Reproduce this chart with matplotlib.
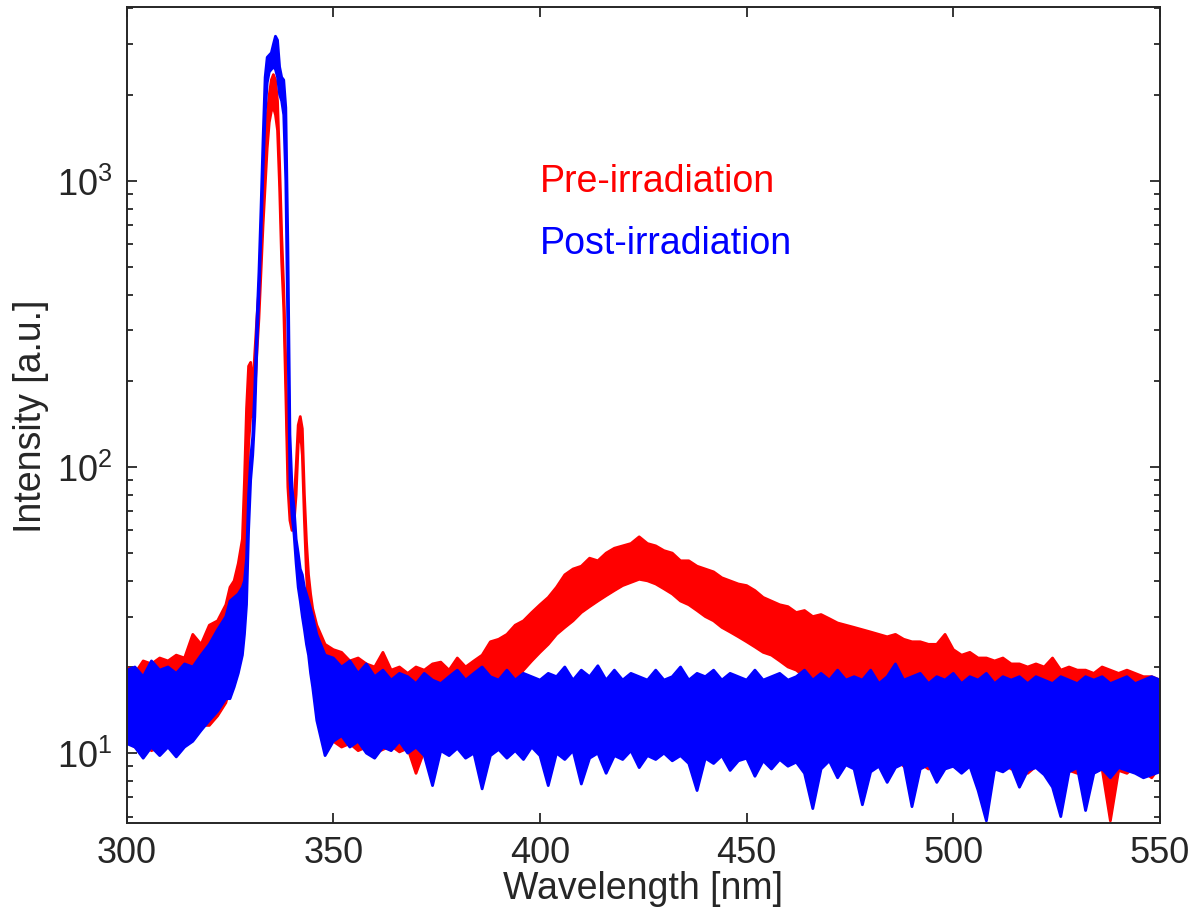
import numpy as np
import matplotlib
matplotlib.use("Agg")
import matplotlib.pyplot as plt

plt.rcParams['font.family'] = ['Liberation Sans', 'DejaVu Sans']
plt.rcParams['mathtext.fontset'] = 'custom'
plt.rcParams['mathtext.rm'] = 'Liberation Sans'
plt.rcParams['mathtext.it'] = 'Liberation Sans:italic'
plt.rcParams['mathtext.bf'] = 'Liberation Sans:bold'

# wavelength grid [nm]: coarse on the baseline, fine across the 337 nm peak
wl = np.concatenate([np.arange(300, 325, 2), [325, 326, 327, 328],
                     np.arange(328.5, 345.01, 0.5), np.arange(346, 551, 2)])

# pre-irradiation spectra: lower / upper envelope of the bundle of traces
pre_lo = [11, 10.5, 10.8, 10.2, 10.5, 10.8, 10.3, 11, 11.5, 12.5, 12.5, 13.5, 15,
          17, 20, 23, 28,
          38, 60, 120, 150, 150, 180, 250, 330, 480, 700, 950, 1300, 1600, 1750,
          1800, 1700, 1500, 950, 520, 360, 180, 85, 65, 60, 64, 80, 120, 135,
          110, 65, 42, 32, 26, 22,
          14, 11.5, 11, 10.5, 10.8, 10.2, 10.5, 10, 10.3, 10.6, 10.1, 10.4, 8.5,
          10.2, 9.8, 10.5, 10.2, 10.6, 11, 12, 13, 14, 15, 16.5, 18, 19.5, 21,
          22.5, 24, 26, 27.5, 29, 31, 32.5, 34, 35.5, 37, 38.5, 39.5, 40.5, 40,
          39, 37.5, 36, 34, 33, 31.5, 30, 29, 27.5, 26.5, 25.5, 24.5, 23.5, 22.5,
          22, 21, 20, 19.5, 18.5, 18, 17, 16.5, 15, 13.5, 12, 11, 10, 9.5, 9.2,
          9.6, 9, 9.4, 9.2, 8.8, 9.3, 9.1, 9, 8.6, 9.2, 8.9, 9.1, 8.7, 9.2, 8.8,
          9.2, 8.5, 9, 8.8, 8.2, 9.1, 8.7, 8.5, 9, 8.6, 8.8, 5.8, 8.7, 8.5, 9,
          8.6, 8.2, 9]
pre_hi = [20, 19, 21, 20.5, 21.5, 21, 22, 21.5, 26, 24, 28, 29, 33,
          38, 40, 46, 56,
          90, 160, 225, 232, 190, 250, 330, 420, 560, 850, 1200, 1700, 2000, 2250,
          2350, 2250, 1900, 1150, 650, 420, 230, 105, 78, 70, 76, 100, 140, 150,
          136, 80, 55, 42, 36, 32,
          28, 24, 23, 22.5, 21, 21.5, 20.5, 20, 22.5, 19.5, 20, 19, 20, 19.5,
          20.5, 20.8, 19.5, 21.5, 20, 21, 22, 24.5, 25, 26, 28, 29, 31, 33, 35,
          38, 42, 44, 45, 48, 47, 50, 52, 53, 54, 57, 54, 53, 51, 50, 47, 47, 45,
          44, 43, 41, 40, 39, 38.5, 37, 35, 34, 33, 32.5, 31, 31.5, 30, 30.5,
          29.5, 28.5, 28, 27.5, 27, 26.5, 26, 25.5, 26, 25, 24.5, 24.5, 24, 24,
          26, 23, 22, 22.5, 21.5, 21.5, 21, 21.5, 20.5, 20.5, 20, 20.5, 20, 21.5,
          19.5, 20, 19.5, 19.5, 19, 20, 19.5, 19, 19.5, 19, 18.5, 18.5, 18]

# post-irradiation spectra
post_lo = [10.8, 10.5, 9.6, 10.5, 9.8, 10.5, 9.7, 10.5, 11, 12, 13, 14, 15.5,
           15.5, 17, 19, 22,
           26, 33, 60, 90, 110, 150, 260, 400, 650, 1100, 1700, 2200, 2400, 2450,
           2500, 2450, 2300, 2000, 1900, 1700, 1000, 300, 90, 68, 58, 46, 38, 34,
           30, 27, 24, 22, 19, 17,
           13, 9.8, 11, 11.5, 10.5, 11, 10, 9.6, 10.5, 10.2, 11, 10, 10.5, 9.8,
           7.7, 10.2, 9.8, 10.4, 9.6, 10, 7.5, 9.8, 10.3, 9.6, 10.2, 9.5, 10.5,
           9.8, 7.7, 10, 9.5, 10.2, 7.8, 9.6, 10, 8.5, 9.8, 9.5, 10.2, 8.9, 9.8,
           9.5, 10, 9.4, 9.8, 9.2, 7.4, 9.6, 9.2, 9.8, 8.7, 9.4, 9.6, 8.3, 9.4,
           8.8, 9.5, 9, 9.3, 8.5, 6.4, 8.8, 9.4, 8.2, 9.1, 8.8, 6.6, 8.6, 9, 7.9,
           8.9, 9.2, 6.5, 8.8, 9.1, 7.9, 8.8, 9, 8.5, 9, 7.4, 5.8, 8.8, 8.6, 9,
           7.6, 8.7, 8.9, 8.4, 7.6, 6.0, 8.6, 8.9, 6.3, 8.5, 8.8, 8.2, 8.9, 8.7,
           8.5, 8.2, 8.4, 8.6]
post_hi = [19.5, 20, 18.5, 21, 19.5, 20, 19, 20.5, 20, 22, 24, 27, 30,
           34, 35, 36, 38,
           40, 48, 80, 108, 128, 190, 320, 480, 800, 1400, 2300, 2700, 2750, 2800,
           3000, 3200, 3100, 2500, 2300, 2250, 1800, 600, 130, 85, 72, 56, 50, 44,
           42, 38, 36, 34, 32, 30,
           26, 22, 21.5, 20, 21, 19, 20.5, 18.5, 19.5, 18, 19, 18.5, 17.5, 19,
           18, 17.5, 18.5, 19.5, 18, 19, 20, 18.5, 18, 19.5, 18, 19, 18.5, 18,
           19, 18.5, 20, 18, 19.5, 18.5, 20.2, 18, 19.5, 18, 19, 18.5, 18, 19.5,
           18, 18.5, 20, 18, 19, 18.5, 19.5, 18, 19, 18.5, 18, 19.5, 18, 18.5,
           19, 18, 18.5, 19.5, 18, 19, 18, 19.5, 18, 18.5, 18, 19.5, 17.5, 18.5,
           20.5, 18, 18.5, 19, 17.5, 18.5, 18, 19, 17.5, 18.5, 18, 19, 17.5, 18.5,
           18, 18.5, 17.5, 18.5, 18, 17.5, 18.5, 18, 17.5, 18.5, 18, 18.5, 17.5,
           18, 18.5, 17.5, 18, 18.5, 18]

fig = plt.figure(figsize=(11.95, 9.12), dpi=100)
ax = fig.add_axes([0.106, 0.0965, 0.8647, 0.8948])

# pre-irradiation (drawn first, underneath)
ax.fill_between(wl, pre_lo, pre_hi, color='red', lw=0, zorder=1)
ax.plot(wl, pre_lo, color='red', lw=2, zorder=2)
ax.plot(wl, pre_hi, color='red', lw=2, zorder=2)

# post-irradiation on top
ax.fill_between(wl, post_lo, post_hi, color='blue', lw=0, zorder=3)
ax.plot(wl, post_lo, color='blue', lw=2, zorder=4)
ax.plot(wl, post_hi, color='blue', lw=2, zorder=4)

ax.set_yscale('log')
ax.set_xlim(300, 550)
ax.set_ylim(5.7, 4050)
ax.set_xticks([300, 350, 400, 450, 500, 550])
ax.set_yticks([10, 100, 1000])
ax.set_yticklabels([r'$\mathregular{10^1}$', r'$\mathregular{10^2}$', r'$\mathregular{10^3}$'])

dark = '#262626'
for s in ax.spines.values():
    s.set_linewidth(1.4)
    s.set_color(dark)
    s.set_zorder(5)
ax.tick_params(which='both', direction='in', top=True, right=True,
               colors=dark, labelcolor=dark, width=1.3)
ax.tick_params(which='major', length=7.5, labelsize=26)
ax.tick_params(axis='x', pad=9)
ax.tick_params(axis='y', which='major', pad=10)
ax.tick_params(which='minor', length=4)
ax.xaxis.set_minor_locator(matplotlib.ticker.NullLocator())

ax.set_xlabel('Wavelength [nm]', fontsize=27, color=dark, labelpad=0)
ax.set_ylabel('Intensity [a.u.]', fontsize=27, color=dark, labelpad=6)

ax.text(400, 1000, 'Pre-irradiation', color='red', fontsize=27, ha='left', va='center')
ax.text(400, 608, 'Post-irradiation', color='blue', fontsize=27, ha='left', va='center')

fig.savefig('out.png', dpi=100)
